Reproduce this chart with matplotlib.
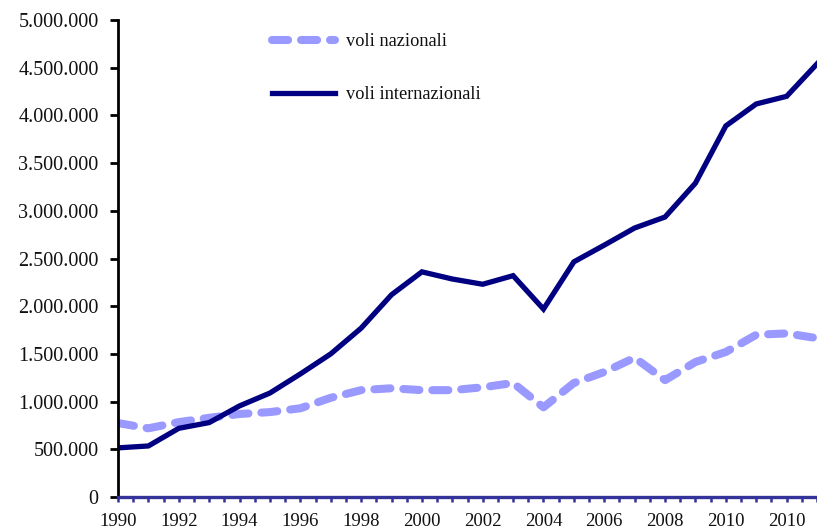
import matplotlib
matplotlib.use("Agg")
import matplotlib.pyplot as plt
from matplotlib.ticker import FuncFormatter, MultipleLocator
import numpy as np

years = list(range(1990, 2014))
voli_nazionali = [775000, 720000, 785000, 830000, 870000, 890000, 930000, 1040000,
                  1120000, 1140000, 1120000, 1120000, 1150000, 1195000, 940000, 1195000,
                  1310000, 1460000, 1225000, 1415000, 1520000, 1700000, 1715000, 1665000]
voli_internazionali = [515000, 535000, 720000, 780000, 955000, 1090000, 1290000, 1500000,
                       1770000, 2120000, 2360000, 2285000, 2230000, 2320000, 1970000, 2465000,
                       2640000, 2820000, 2935000, 3290000, 3890000, 4120000, 4200000, 4540000]
tick_labels = ["1990", "1992", "1994", "1996", "1998", "2000", "2002", "2004",
               "2006", "2008", "2010", "2010"]
legend_labels = ["voli nazionali", "voli internazionali"]

plt.rcParams['font.family'] = ['Liberation Serif', 'DejaVu Serif']

fig = plt.figure(figsize=(8.17, 5.29), dpi=100)
ax = fig.add_axes([118/817, 32/529, 1 - 118/817, 477/529])

x = np.arange(len(years))
l1, = ax.plot(x, voli_nazionali, color="#9999FF", lw=5.8, solid_capstyle="round",
              dash_capstyle="round", label=legend_labels[0])
l1.set_dashes((2.0, 1.6))
l2, = ax.plot(x, voli_internazionali, color="#000080", lw=3.8, solid_joinstyle="miter",
              label=legend_labels[1])

ax.set_xlim(0, len(years) - 1)
ax.set_ylim(0, 5000000)
ax.set_yticks(np.arange(0, 5000001, 500000))
ax.yaxis.set_major_formatter(FuncFormatter(lambda v, p: f"{int(v):,}".replace(",", ".")))
ax.set_xticks(np.arange(0, 2 * len(tick_labels), 2))
ax.set_xticklabels(tick_labels)
ax.xaxis.set_minor_locator(MultipleLocator(0.5))

for s in ["top", "right"]:
    ax.spines[s].set_visible(False)
ax.spines["left"].set_color("black")
ax.spines["left"].set_linewidth(2.0)
ax.spines["bottom"].set_color("#333399")
ax.spines["bottom"].set_linewidth(2.4)
ax.spines["bottom"].set_zorder(5)

ax.tick_params(axis="y", direction="out", length=6, width=2, color="black",
               labelsize=14.5, pad=8, labelcolor="#111111")
ax.tick_params(axis="x", which="both", direction="out", length=3.5, width=1.8,
               color="#333399", labelsize=13.5, pad=8, labelcolor="#111111")

leg = ax.legend(handles=[l1, l2], loc="upper left",
                bbox_to_anchor=((272 - 118) / 699 - 0.01, (497 - 26) / 477),
                frameon=False, fontsize=13.2, handlelength=3.4, handletextpad=0.6,
                labelspacing=1.97, borderaxespad=0)
for t in leg.get_texts():
    t.set_color("#111111")

fig.savefig("out.png", dpi=100)
